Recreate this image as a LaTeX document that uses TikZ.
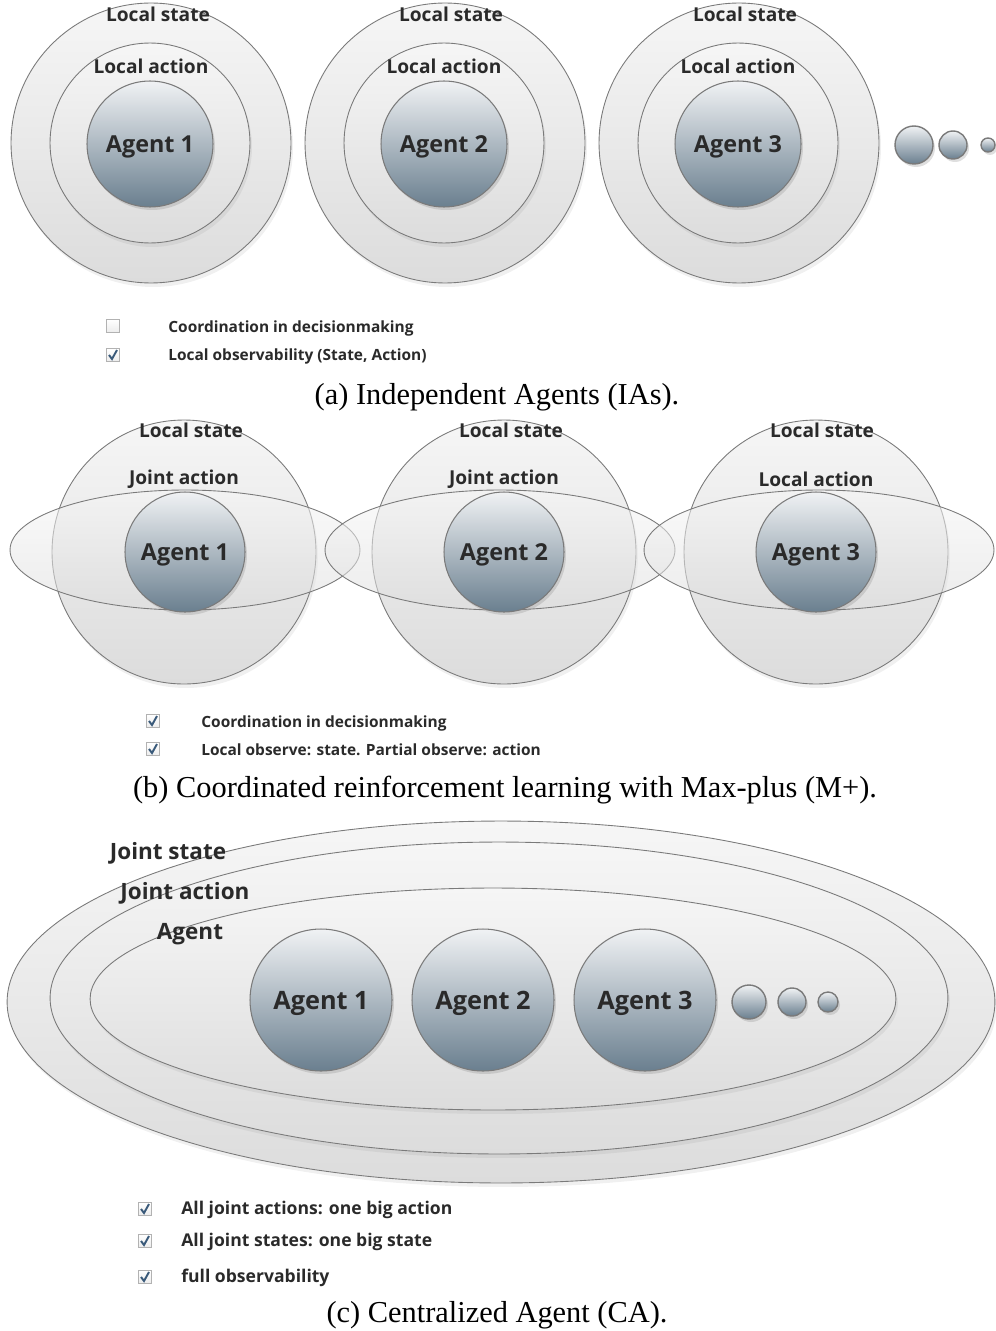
\documentclass[tikz,border=0pt]{standalone}
\usepackage{fontspec}
\setmainfont{Liberation Serif}
\newfontfamily\lblfont{Open Sans}
\usetikzlibrary{shapes.geometric,shadows}

\definecolor{ringtop}{HTML}{F6F6F6}
\definecolor{ringbot}{HTML}{DCDCDC}
\definecolor{agtop}{HTML}{F0F2F4}
\definecolor{agbot}{HTML}{6A7F8F}
\definecolor{edgegray}{HTML}{7A7A7A}
\definecolor{txtgray}{HTML}{2A2A2A}
\definecolor{tickblue}{HTML}{3A5A7A}

\tikzset{
  ring/.style={circle, draw=edgegray, line width=0.5pt, top color=ringtop, bottom color=ringbot, inner sep=0pt,
    drop shadow={opacity=0.12, shadow xshift=0.4mm, shadow yshift=-0.8mm}},
  lens/.style={ellipse, draw=edgegray, line width=0.5pt, top color=ringtop, bottom color=ringbot, fill opacity=0.55, inner sep=0pt},
  agent/.style={circle, draw=edgegray, line width=0.6pt, top color=agtop, bottom color=agbot, inner sep=0pt,
    text=txtgray, text depth=0pt, font=\lblfont\bfseries\fontsize{13.3}{15}\selectfont,
    drop shadow={opacity=0.25, shadow xshift=0.4mm, shadow yshift=-0.6mm}},
  dot/.style={agent, line width=0.8pt},
  ringlbl/.style={inner sep=0pt, text=txtgray, font=\lblfont\bfseries\fontsize{10.9}{13}\selectfont},
  cbox/.style={draw=gray!60, top color=white, bottom color=gray!15, minimum size=0.26cm, inner sep=0pt},
  tick/.style={draw=tickblue, line width=1.1pt},
  boxtxt/.style={anchor=west, inner sep=0pt, text=txtgray, font=\lblfont\bfseries\fontsize{8.8}{10}\selectfont},
  caption/.style={inner sep=0pt, font=\fontsize{17.3}{20}\selectfont}
}

\begin{document}
\begin{tikzpicture}[x=0.02cm, y=-0.02cm]
  \useasboundingbox (0,0) rectangle (995,1331);

  % (a) independent agents
  \node[ring, minimum size=5.6cm] (sa1) at (151,143) {};
  \node[ring, minimum size=4cm] (aa1) at (150,143) {};
  \node[agent, minimum size=2.52cm] (ag1) at (150,144) {Agent 1};
  \node[ring, minimum size=5.6cm] (sa2) at (445,143) {};
  \node[ring, minimum size=4cm] (aa2) at (444,143) {};
  \node[agent, minimum size=2.52cm] (ag2) at (444,144) {Agent 2};
  \node[ring, minimum size=5.6cm] (sa3) at (739,143) {};
  \node[ring, minimum size=4cm] (aa3) at (738,143) {};
  \node[agent, minimum size=2.52cm] (ag3) at (738,144) {Agent 3};

  \node[ringlbl] (lsa1) at (158,14) {Local state};
  \node[ringlbl] (laa1) at (151,66) {Local action};
  \node[ringlbl] (lsa2) at (451,14) {Local state};
  \node[ringlbl] (laa2) at (444,66) {Local action};
  \node[ringlbl] (lsa3) at (745,14) {Local state};
  \node[ringlbl] (laa3) at (738,66) {Local action};

  % more agents
  \node[dot, minimum size=0.76cm] (da1) at (914,145) {};
  \node[dot, minimum size=0.56cm] (da2) at (953,145) {};
  \node[dot, minimum size=0.28cm] (da3) at (988,145) {};

  % check list (a)
  \node[cbox] (cba1) at (113,326) {};
  \node[cbox] (cba2) at (113,355) {};
  \draw[tick] ([shift={(-4,0)}]cba2.center) -- ([shift={(-1,4)}]cba2.center) -- ([shift={(4,-5)}]cba2.center);
  \node[boxtxt] (ta1) at (168,328) {Coordination in decisionmaking};
  \node[boxtxt] (ta2) at (168,356) {Local observability (State, Action)};

  \node[caption] (capa) at (497,397) {(a) Independent Agents (IAs).};

  % (b) max-plus
  \node[ring, minimum size=5.28cm] (sb1) at (184,552) {};
  \node[lens, minimum width=7cm, minimum height=2.4cm] (eb1) at (185,550) {};
  \node[agent, minimum size=2.4cm] (bg1) at (185,552) {Agent 1};
  \node[ring, minimum size=5.28cm] (sb2) at (504,552) {};
  \node[lens, minimum width=7cm, minimum height=2.4cm] (eb2) at (500,550) {};
  \node[agent, minimum size=2.4cm] (bg2) at (504,552) {Agent 2};
  \node[ring, minimum size=5.28cm] (sb3) at (816,552) {};
  \node[lens, minimum width=7cm, minimum height=2.4cm] (eb3) at (819,550) {};
  \node[agent, minimum size=2.4cm] (bg3) at (816,552) {Agent 3};

  \node[ringlbl] (lsb1) at (191,430) {Local state};
  \node[ringlbl] (lab1) at (184,479) {Joint action};
  \node[ringlbl] (lsb2) at (511,430) {Local state};
  \node[ringlbl] (lab2) at (504,479) {Joint action};
  \node[ringlbl] (lsb3) at (822,430) {Local state};
  \node[ringlbl] (lab3) at (816,479) {Local action};

  % check list (b)
  \node[cbox] (cbb1) at (153,721) {};
  \node[cbox] (cbb2) at (153,749) {};
  \draw[tick] ([shift={(-4,0)}]cbb1.center) -- ([shift={(-1,4)}]cbb1.center) -- ([shift={(4,-5)}]cbb1.center);
  \draw[tick] ([shift={(-4,0)}]cbb2.center) -- ([shift={(-1,4)}]cbb2.center) -- ([shift={(4,-5)}]cbb2.center);
  \node[boxtxt] (tb1) at (201,723) {Coordination in decisionmaking};
  \node[boxtxt] (tb2) at (201,750) {Local observe: state. Partial observe: action};

  \node[caption] (capb) at (505,790) {(b) Coordinated reinforcement learning with Max-plus (M+).};

  % (c) centralized agent
  \node[ring, ellipse, minimum width=19.76cm, minimum height=7.24cm] (jsc) at (501,1002) {};
  \node[ring, ellipse, minimum width=17.96cm, minimum height=6.24cm] (jac) at (499,998) {};
  \node[ring, ellipse, minimum width=16.12cm, minimum height=4.44cm] (agc) at (493,999) {};
  \node[agent, minimum size=2.84cm, font=\lblfont\bfseries\fontsize{14.4}{16}\selectfont] (cg1) at (321,1000) {Agent 1};
  \node[agent, minimum size=2.84cm, font=\lblfont\bfseries\fontsize{14.4}{16}\selectfont] (cg2) at (483,1000) {Agent 2};
  \node[agent, minimum size=2.84cm, font=\lblfont\bfseries\fontsize{14.4}{16}\selectfont] (cg3) at (645,1000) {Agent 3};
  \node[dot, minimum size=0.68cm] (dc1) at (749,1002) {};
  \node[dot, minimum size=0.56cm] (dc2) at (792,1002) {};
  \node[dot, minimum size=0.4cm] (dc3) at (828,1002) {};

  \node[ringlbl, font=\lblfont\bfseries\fontsize{12.8}{15}\selectfont] (ljs) at (168,853) {Joint state};
  \node[ringlbl, font=\lblfont\bfseries\fontsize{12.8}{15}\selectfont] (lja) at (185,893) {Joint action};
  \node[ringlbl, font=\lblfont\bfseries\fontsize{12.8}{15}\selectfont] (lag) at (190,934) {Agent};

  % check list (c)
  \node[cbox] (cbc1) at (145,1209) {};
  \node[cbox] (cbc2) at (145,1241) {};
  \node[cbox] (cbc3) at (145,1277) {};
  \draw[tick] ([shift={(-4,0)}]cbc1.center) -- ([shift={(-1,4)}]cbc1.center) -- ([shift={(4,-5)}]cbc1.center);
  \draw[tick] ([shift={(-4,0)}]cbc2.center) -- ([shift={(-1,4)}]cbc2.center) -- ([shift={(4,-5)}]cbc2.center);
  \draw[tick] ([shift={(-4,0)}]cbc3.center) -- ([shift={(-1,4)}]cbc3.center) -- ([shift={(4,-5)}]cbc3.center);
  \node[boxtxt, font=\lblfont\bfseries\fontsize{10}{12}\selectfont] (tc1) at (181,1210) {All joint actions: one big action};
  \node[boxtxt, font=\lblfont\bfseries\fontsize{10}{12}\selectfont] (tc2) at (181,1242) {All joint states: one big state};
  \node[boxtxt, font=\lblfont\bfseries\fontsize{10}{12}\selectfont] (tc3) at (181,1278) {full observability};

  \node[caption] (capc) at (497,1315) {(c) Centralized Agent (CA).};
\end{tikzpicture}
\end{document}
